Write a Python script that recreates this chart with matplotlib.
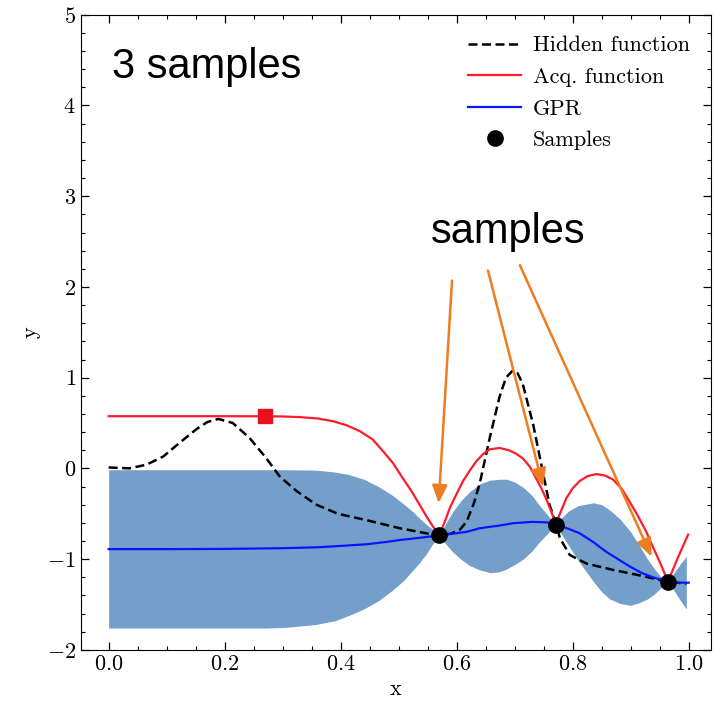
import matplotlib
matplotlib.use("Agg")
import matplotlib.pyplot as plt
from matplotlib.ticker import MultipleLocator

# hidden (true) function
hidden_x = [0.0, 0.036, 0.065, 0.094, 0.122, 0.151, 0.17, 0.189, 0.214, 0.243, 0.272, 0.295,
            0.324, 0.358, 0.395, 0.444, 0.502, 0.559, 0.570, 0.590, 0.605, 0.617, 0.630, 0.640,
            0.657, 0.674, 0.685, 0.697, 0.705, 0.714, 0.732, 0.746, 0.760, 0.772, 0.778, 0.795,
            0.824, 0.870, 0.916, 0.964, 0.996]
hidden_y = [0.01, 0.0, 0.04, 0.13, 0.28, 0.43, 0.51, 0.545, 0.50, 0.335, 0.11, -0.09,
            -0.25, -0.40, -0.50, -0.57, -0.66, -0.73, -0.74, -0.72, -0.68, -0.59, -0.38, -0.16,
            0.335, 0.79, 1.0, 1.08, 1.05, 0.93, 0.48, 0.04, -0.40, -0.62, -0.77, -0.955,
            -1.05, -1.12, -1.18, -1.25, -1.27]

# GPR posterior mean
gpr_x = [0.0, 0.1, 0.2, 0.3, 0.36, 0.40, 0.444, 0.48, 0.502, 0.53, 0.570, 0.617, 0.64, 0.674,
         0.697, 0.73, 0.755, 0.771, 0.79, 0.812, 0.835, 0.858, 0.878, 0.898, 0.918, 0.938,
         0.964, 0.98, 1.0]
gpr_y = [-0.89, -0.89, -0.888, -0.88, -0.87, -0.855, -0.837, -0.81, -0.79, -0.77, -0.74, -0.70,
         -0.66, -0.63, -0.605, -0.59, -0.595, -0.62, -0.66, -0.715, -0.81, -0.92, -1.0, -1.08,
         -1.15, -1.20, -1.25, -1.26, -1.26]

# confidence band
band_x = [0.0, 0.1, 0.2, 0.27, 0.30, 0.344, 0.358, 0.39, 0.415, 0.44, 0.465, 0.49, 0.508,
          0.525, 0.536, 0.548, 0.558, 0.570, 0.582, 0.593, 0.607, 0.622, 0.640, 0.658, 0.674,
          0.686, 0.700, 0.715, 0.730, 0.743, 0.755, 0.765, 0.771, 0.780, 0.793, 0.810, 0.836,
          0.850, 0.864, 0.882, 0.900, 0.915, 0.929, 0.940, 0.950, 0.958, 0.964, 0.975, 0.985,
          0.996]
band_hi = [-0.015, -0.015, -0.015, -0.015, -0.015, -0.018, -0.02, -0.04, -0.07, -0.12, -0.20,
           -0.30, -0.39, -0.48, -0.55, -0.62, -0.67, -0.74, -0.60, -0.48, -0.36, -0.26, -0.17,
           -0.13, -0.12, -0.12, -0.15, -0.21, -0.30, -0.41, -0.50, -0.58, -0.62, -0.55, -0.47,
           -0.41, -0.38, -0.40, -0.46, -0.56, -0.70, -0.85, -1.00, -1.10, -1.18, -1.23, -1.25,
           -1.15, -1.06, -0.97]
band_lo = [-1.76, -1.76, -1.76, -1.76, -1.755, -1.73, -1.72, -1.68, -1.62, -1.55, -1.46,
           -1.34, -1.24, -1.12, -1.04, -0.94, -0.84, -0.74, -0.84, -0.92, -1.00, -1.07, -1.12,
           -1.15, -1.14, -1.11, -1.06, -1.00, -0.91, -0.81, -0.73, -0.66, -0.62, -0.72, -0.85,
           -1.02, -1.25, -1.36, -1.44, -1.49, -1.51, -1.48, -1.44, -1.39, -1.33, -1.29, -1.25,
           -1.35, -1.45, -1.55]

# acquisition function
acq_x = [0.0, 0.1, 0.2, 0.27, 0.30, 0.329, 0.36, 0.387, 0.41, 0.433, 0.455, 0.473, 0.49,
         0.507, 0.522, 0.536, 0.548, 0.559, 0.570, 0.580, 0.588, 0.600, 0.611, 0.622, 0.634,
         0.646, 0.657, 0.674, 0.690, 0.703, 0.714, 0.726, 0.737, 0.746, 0.754, 0.762, 0.771,
         0.780, 0.789, 0.800, 0.812, 0.826, 0.841, 0.856, 0.870, 0.885, 0.898, 0.913, 0.927,
         0.940, 0.950, 0.958, 0.964, 0.972, 0.979, 0.990, 0.999]
acq_y = [0.575, 0.575, 0.575, 0.574, 0.572, 0.565, 0.55, 0.52, 0.475, 0.41, 0.32, 0.19, 0.06,
         -0.107, -0.25, -0.40, -0.53, -0.64, -0.74, -0.58, -0.44, -0.28, -0.14, -0.03, 0.08,
         0.16, 0.21, 0.225, 0.20, 0.16, 0.11, 0.02, -0.11, -0.22, -0.33, -0.46, -0.61,
         -0.47, -0.33, -0.22, -0.14, -0.085, -0.063, -0.08, -0.125, -0.23, -0.365, -0.53, -0.70,
         -0.89, -1.03, -1.15, -1.25, -1.13, -1.02, -0.86, -0.73]

sample_x = [0.570, 0.771, 0.964]
sample_y = [-0.74, -0.62, -1.25]
next_x = [0.269]
next_y = [0.575]

# arrow (tail, tip) pairs pointing at the samples
arrows = [((0.592, 2.07), (0.569, -0.384)),
          ((0.654, 2.18), (0.749, -0.20)),
          ((0.709, 2.24), (0.936, -0.973))]

plt.rcParams["font.family"] = "serif"
plt.rcParams["font.serif"] = ["cmr10"]
plt.rcParams["mathtext.fontset"] = "cm"
plt.rcParams["axes.formatter.use_mathtext"] = True
plt.rcParams["font.size"] = 16

fig = plt.figure(figsize=(7.15, 7.04), dpi=100)
ax = fig.add_axes([0.113, 0.077, 0.881, 0.902])

ax.fill_between(band_x, band_lo, band_hi, color="#749fcb", linewidth=0)
ax.plot(hidden_x, hidden_y, color="black", linestyle=(0, (3.6, 1.8)), linewidth=1.8,
        label="Hidden function")
ax.plot(acq_x, acq_y, color="#ff1a2e", linewidth=1.6, label="Acq. function")
ax.plot(gpr_x, gpr_y, color="#0a14ff", linewidth=1.6, label="GPR")
ax.plot(sample_x, sample_y, "o", color="black", markersize=11, label="Samples")
ax.plot(next_x, next_y, "s", color="#e8101e", markersize=10)

for (tail, tip) in arrows:
    ax.annotate("", xy=tip, xytext=tail,
                arrowprops=dict(arrowstyle="-|>,head_length=0.4,head_width=0.17",
                                color="#ee7d22", lw=1.8, mutation_scale=27,
                                shrinkA=0, shrinkB=0))

ax.set_xlim(-0.048, 1.038)
ax.set_ylim(-2, 5)
ax.xaxis.set_major_locator(MultipleLocator(0.2))
ax.xaxis.set_minor_locator(MultipleLocator(0.05))
ax.yaxis.set_major_locator(MultipleLocator(1))
ax.yaxis.set_minor_locator(MultipleLocator(0.2))
ax.tick_params(which="both", direction="in", top=True, right=True, labelsize=16)
ax.tick_params(which="major", length=6, width=0.9)
ax.tick_params(which="minor", length=3, width=0.8)
ax.set_xlabel("x", fontsize=16)
ax.set_ylabel("y", fontsize=16)

leg = ax.legend(loc="upper right", frameon=False, fontsize=16, handlelength=2.4,
                handletextpad=0.5, labelspacing=0.54, numpoints=1, borderaxespad=0.55)

fig.text(112 / 715, 1 - 78 / 704, "3 samples", family="Liberation Sans", fontsize=30,
         va="baseline", ha="left")
fig.text(431 / 715, 1 - 243 / 704, "samples", family="Liberation Sans", fontsize=30,
         va="baseline", ha="left")

fig.savefig("out.png", dpi=100)
